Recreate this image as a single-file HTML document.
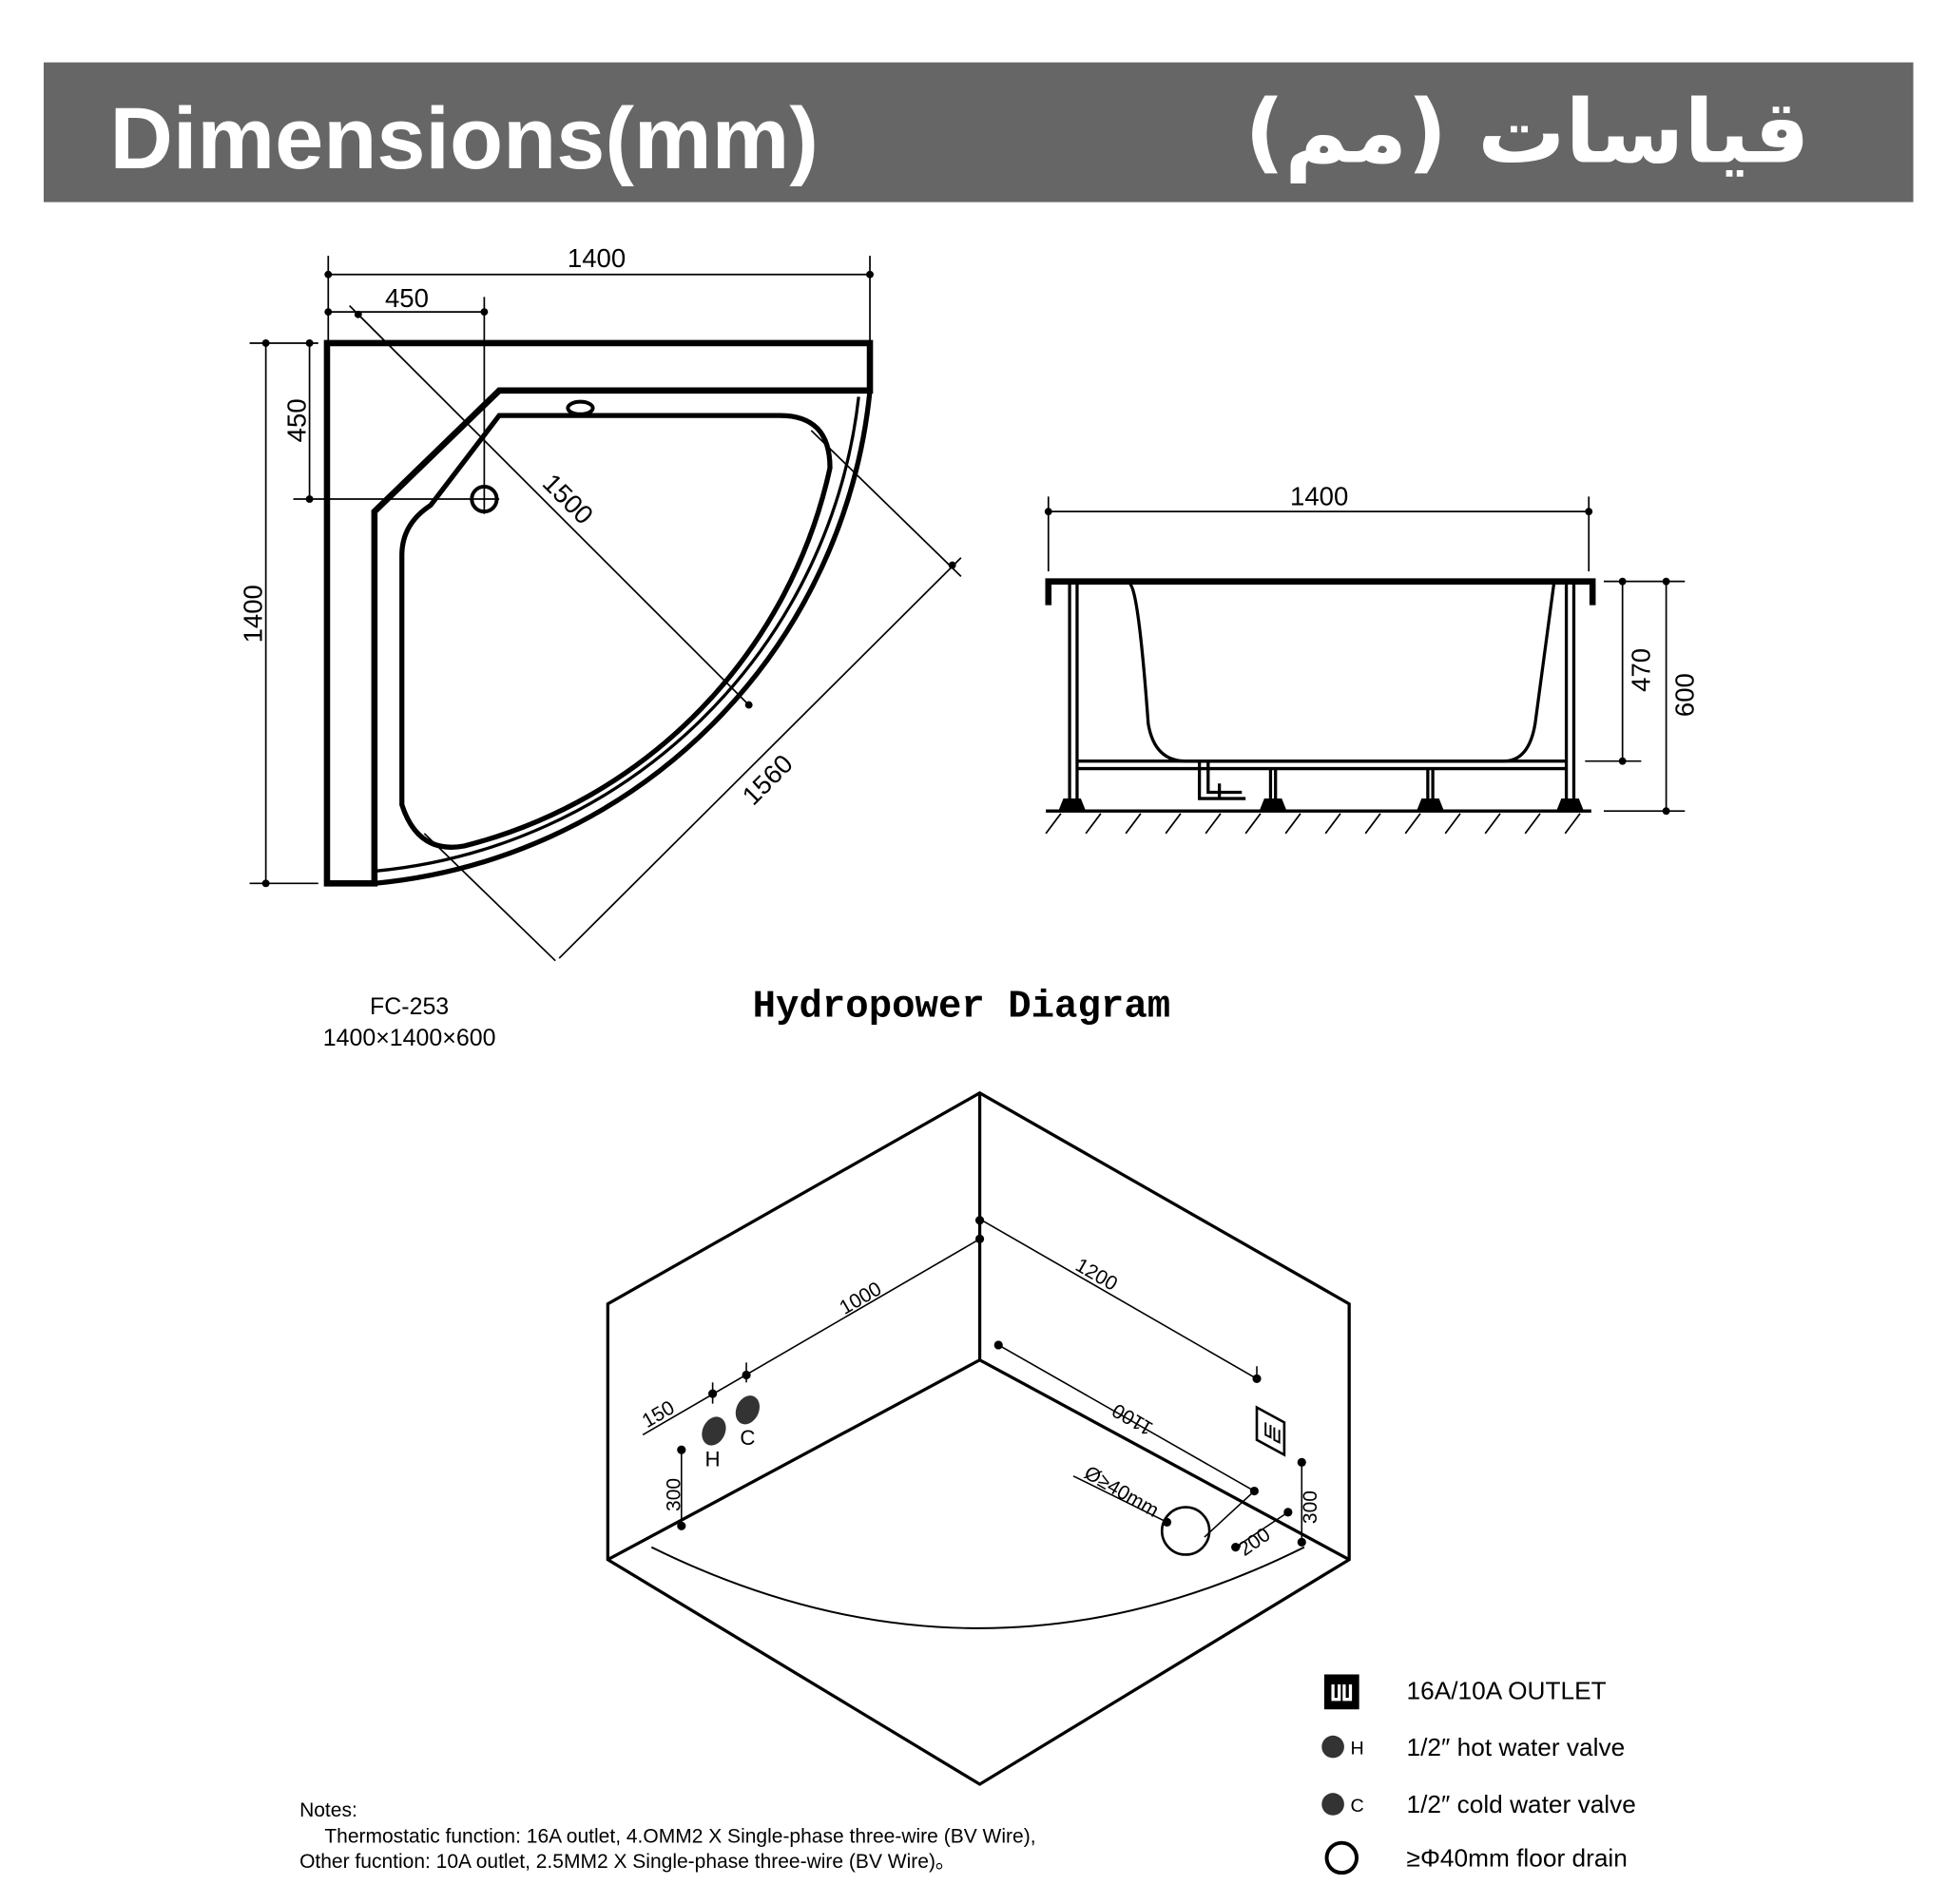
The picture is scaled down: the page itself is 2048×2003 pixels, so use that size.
<!DOCTYPE html>
<html><head><meta charset="utf-8"><style>
html,body{margin:0;padding:0;background:#fff}
svg{display:block}
</style></head><body>
<svg width="2048" height="2003" viewBox="0 0 1560 1526" preserveAspectRatio="none" xmlns="http://www.w3.org/2000/svg" font-family="Liberation Sans, sans-serif">
<rect x="35" y="50" width="1498" height="112" fill="#666"/>
<text x="88" y="135" font-size="70" font-weight="bold" fill="#fff">Dimensions(mm)</text>
<text x="1450" y="130" font-size="70" font-weight="bold" fill="#fff" text-anchor="end" style="font-family:'DejaVu Sans',sans-serif">قياسات (مم)</text>

<g fill="none" stroke="#000">
<path d="M262 708 V275 H697 V313 H400 L300 410 V708 Z" stroke-width="5"/>
<path d="M697 313 A440 440 0 0 1 300 708" stroke-width="4"/>
<path d="M688 318 A430 430 0 0 1 302 698" stroke-width="2.5"/>
<path d="M400 333 H625 Q665 333 665 375 A400 400 0 0 1 372 678 Q335 685 322 645 V445 Q322 420 345 405 Z" stroke-width="4"/>
<ellipse cx="465" cy="327" rx="10" ry="5" stroke-width="3"/>
<circle cx="388" cy="400" r="10" stroke-width="3"/>
<g stroke-width="1.3">
<line x1="263" y1="220" x2="697" y2="220"/><line x1="263" y1="205" x2="263" y2="275"/><line x1="697" y1="205" x2="697" y2="290"/>
<line x1="263" y1="250" x2="388" y2="250"/><line x1="388" y1="238" x2="388" y2="412"/>
<line x1="213" y1="275" x2="213" y2="708"/><line x1="200" y1="275" x2="255" y2="275"/><line x1="200" y1="708" x2="255" y2="708"/>
<line x1="248" y1="275" x2="248" y2="400"/><line x1="235" y1="400" x2="400" y2="400"/>
<line x1="280" y1="245" x2="600" y2="565"/>
<line x1="650" y1="345" x2="770" y2="462"/><line x1="340" y1="668" x2="445" y2="770"/><line x1="770" y1="447" x2="448" y2="768"/>
</g>
</g>
<g fill="#000">
<circle cx="263" cy="220" r="3"/><circle cx="697" cy="220" r="3"/><circle cx="263" cy="250" r="3"/><circle cx="388" cy="250" r="3"/>
<circle cx="213" cy="275" r="3"/><circle cx="213" cy="708" r="3"/><circle cx="248" cy="275" r="3"/><circle cx="248" cy="400" r="3"/>
<circle cx="287" cy="252" r="3"/><circle cx="600" cy="565" r="3"/><circle cx="763" cy="453" r="3"/>
</g>
<g font-size="21">
<text x="478" y="214" text-anchor="middle">1400</text>
<text x="326" y="246" text-anchor="middle">450</text>
<text transform="translate(210,492) rotate(-90)" text-anchor="middle">1400</text>
<text transform="translate(245,337) rotate(-90)" text-anchor="middle">450</text>
<text transform="translate(450,405) rotate(45)" text-anchor="middle">1500</text>
<text transform="translate(620,630) rotate(-45)" text-anchor="middle">1560</text>
<text x="1057" y="405" text-anchor="middle">1400</text>
<text transform="translate(1322,537) rotate(-90)" text-anchor="middle">470</text>
<text transform="translate(1357,557) rotate(-90)" text-anchor="middle">600</text>
<text x="328" y="813" font-size="19" text-anchor="middle">FC-253</text>
<text x="328" y="838" font-size="19" text-anchor="middle">1400×1400×600</text>
</g>

<g fill="none" stroke="#000">
<path d="M840 485 V466 H1276 V485" stroke-width="5"/>
<g stroke-width="2.5">
<line x1="857" y1="468" x2="857" y2="640"/><line x1="863" y1="468" x2="863" y2="640"/>
<line x1="1255" y1="468" x2="1255" y2="640"/><line x1="1261" y1="468" x2="1261" y2="640"/>
<line x1="863" y1="610" x2="1255" y2="610"/><line x1="863" y1="616" x2="1255" y2="616"/>
<path d="M905 468 Q912 470 920 580 Q925 610 950 610 H1205 Q1225 610 1230 580 L1245 468"/>
<line x1="838" y1="650" x2="1275" y2="650"/>
<path d="M961 610 V640 H998 M968 610 V635 H995 M977 628 V640"/>
<line x1="1018" y1="616" x2="1018" y2="640"/><line x1="1022" y1="616" x2="1022" y2="640"/>
<line x1="1144" y1="616" x2="1144" y2="640"/><line x1="1148" y1="616" x2="1148" y2="640"/>
</g>
<g stroke-width="1.3">
<line x1="840" y1="410" x2="1273" y2="410"/><line x1="840" y1="398" x2="840" y2="458"/><line x1="1273" y1="398" x2="1273" y2="458"/>
<line x1="1300" y1="466" x2="1300" y2="610"/><line x1="1335" y1="466" x2="1335" y2="650"/>
<line x1="1285" y1="466" x2="1350" y2="466"/><line x1="1270" y1="610" x2="1315" y2="610"/><line x1="1285" y1="650" x2="1350" y2="650"/>
<path d="M850 652 l-12 16 M882 652 l-12 16 M914 652 l-12 16 M946 652 l-12 16 M978 652 l-12 16 M1010 652 l-12 16 M1042 652 l-12 16 M1074 652 l-12 16 M1106 652 l-12 16 M1138 652 l-12 16 M1170 652 l-12 16 M1202 652 l-12 16 M1234 652 l-12 16 M1266 652 l-12 16"/>
</g>
</g>
<g fill="#000">
<path d="M852 640 h14 l4 10 h-22 z M1013 640 h14 l4 10 h-22 z M1139 640 h14 l4 10 h-22 z M1251 640 h14 l4 10 h-22 z"/>
<circle cx="840" cy="410" r="3"/><circle cx="1273" cy="410" r="3"/>
<circle cx="1300" cy="466" r="3"/><circle cx="1300" cy="610" r="3"/><circle cx="1335" cy="466" r="3"/><circle cx="1335" cy="650" r="3"/>
</g>

<text x="603" y="815" font-size="31" font-weight="bold" style="font-family:'Liberation Mono',monospace">Hydropower Diagram</text>

<g fill="none" stroke="#000" stroke-width="2.5">
<path d="M785 876 L1081 1045 V1250 L785 1430 L487 1250 V1045 Z"/>
<line x1="785" y1="876" x2="785" y2="1090"/>
<path d="M487 1250 L785 1090 L1081 1250"/>
<path d="M522 1240 Q785 1370 1045 1240" stroke-width="1.5"/>
<circle cx="950" cy="1227" r="19" stroke-width="2"/>
<path d="M1007 1128 L1029 1140 V1166 L1007 1154 Z" stroke-width="2"/>
<path d="M1014 1140 v10 l4 2 v-10 M1021 1144 v10 l4 2 v-10" stroke-width="1.5"/>
</g>
<g fill="none" stroke="#000" stroke-width="1.2">
<line x1="785" y1="993" x2="515" y2="1150"/>
<line x1="785" y1="977" x2="1007" y2="1105"/><line x1="1007" y1="1105" x2="1007" y2="1095"/>
<line x1="800" y1="1078" x2="1005" y2="1195"/>
<line x1="546" y1="1160" x2="546" y2="1225"/>
<line x1="1043" y1="1170" x2="1043" y2="1236"/>
<line x1="860" y1="1183" x2="935" y2="1220"/>
<line x1="1005" y1="1195" x2="965" y2="1232"/>
<line x1="990" y1="1240" x2="1032" y2="1212"/>
<line x1="571" y1="1108" x2="571" y2="1125"/><line x1="598" y1="1092" x2="598" y2="1108"/>
</g>
<g fill="#000">
<circle cx="785" cy="978" r="3.5"/><circle cx="785" cy="993" r="3.5"/><circle cx="598" cy="1102" r="3.5"/><circle cx="571" cy="1117" r="3.5"/>
<circle cx="1007" cy="1105" r="3.5"/><circle cx="800" cy="1078" r="3.5"/><circle cx="1005" cy="1195" r="3.5"/>
<circle cx="546" cy="1162" r="3.5"/><circle cx="546" cy="1223" r="3.5"/><circle cx="1043" cy="1172" r="3.5"/><circle cx="1043" cy="1236" r="3.5"/>
<circle cx="935" cy="1220" r="3.5"/><circle cx="1032" cy="1212" r="3.5"/><circle cx="990" cy="1240" r="3.5"/>
<ellipse cx="572" cy="1147" rx="9" ry="12" transform="rotate(25 572 1147)" fill="#333"/>
<ellipse cx="599" cy="1130" rx="9" ry="12" transform="rotate(25 599 1130)" fill="#333"/>
</g>
<g font-size="16">
<text transform="translate(692,1045) rotate(-30)" text-anchor="middle">1000</text>
<text transform="translate(876,1026) rotate(30)" text-anchor="middle">1200</text>
<text transform="translate(910,1133) rotate(210)" text-anchor="middle">1100</text>
<text transform="translate(530,1138) rotate(-30)" text-anchor="middle">150</text>
<text transform="translate(545,1198) rotate(-90)" text-anchor="middle">300</text>
<text transform="translate(1055,1208) rotate(-90)" text-anchor="middle">300</text>
<text transform="translate(896,1200) rotate(30)" text-anchor="middle">Ø≥40mm</text>
<text transform="translate(1008,1240) rotate(-35)" text-anchor="middle">200</text>
<text x="571" y="1175" font-size="17" text-anchor="middle">H</text>
<text x="599" y="1158" font-size="17" text-anchor="middle">C</text>
</g>

<rect x="1061" y="1342" width="28" height="28" fill="#000"/>
<path d="M1068 1350 v12 h5 v-12 M1077 1350 v12 h5 v-12" stroke="#fff" stroke-width="2.5" fill="none"/>
<circle cx="1068" cy="1400" r="9" fill="#333"/><text x="1082" y="1406" font-size="15">H</text>
<circle cx="1068" cy="1446" r="9" fill="#333"/><text x="1082" y="1452" font-size="15">C</text>
<circle cx="1075" cy="1489" r="12" fill="none" stroke="#000" stroke-width="3"/>
<g font-size="20">
<text x="1127" y="1362">16A/10A OUTLET</text>
<text x="1127" y="1407">1/2″ hot water valve</text>
<text x="1127" y="1453">1/2″ cold water valve</text>
<text x="1127" y="1496">≥Φ40mm floor drain</text>
</g>
<g font-size="16">
<text x="240" y="1456">Notes:</text>
<text x="260" y="1477">Thermostatic function: 16A outlet, 4.OMM2 X Single-phase three-wire (BV Wire),</text>
<text x="240" y="1497">Other fucntion: 10A outlet, 2.5MM2 X Single-phase three-wire (BV Wire)。</text>
</g>
</svg>
</body></html>
